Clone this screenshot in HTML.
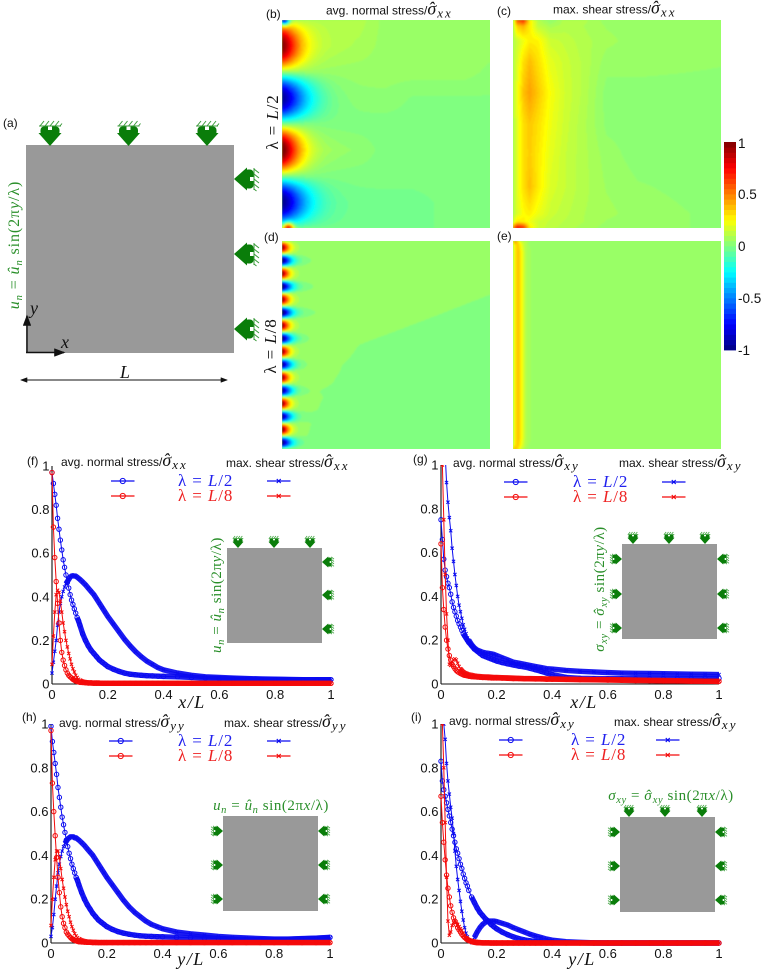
<!DOCTYPE html>
<html lang="en">
<head>
<meta charset="utf-8">
<title>Stress decay figure</title>
<style>
html,body{margin:0;padding:0;background:#fff;}
svg{display:block;}
text{font-family:"Liberation Sans",sans-serif;font-size:12px;fill:#111;}
.m{font-family:"Liberation Serif",serif;}
.i{font-family:"Liberation Serif",serif;font-style:italic;}
.g,.g tspan{fill:#2a8f2a;}
.b,.b tspan{fill:#2222ee;}
.r,.r tspan{fill:#ee2222;}
.lam{font-size:17px;letter-spacing:.9px;}
.ax{font-size:18px;letter-spacing:1.5px;}
.gl{font-size:15px;letter-spacing:.55px;}
.gs{font-size:10.5px;}
.sig{font-size:18px;}
.sub{font-size:13px;letter-spacing:2px;}
</style>
</head>
<body>
<svg id="fig" xmlns="http://www.w3.org/2000/svg" width="765" height="971" viewBox="0 0 765 971">
<defs>
<filter id="soft" x="-5%" y="-5%" width="110%" height="110%"><feGaussianBlur stdDeviation="0.7"/></filter>
<g id="clip-icon">
<path d="M-11.500,-13 L11.500,-13 L0,0 Z" fill="#0a7d0a"/>
<rect x="-9.500" y="-19.500" width="19" height="9" rx="3.500" fill="#0a7d0a"/>
<rect x="-2" y="-19.500" width="4" height="3.500" fill="#fff"/>
<path d="M-11,-20 H11 M-10,-20 l4,-5 M-5,-20 l4,-5 M0,-20 l4,-5 M5,-20 l4,-5 M10,-20 l2,-2.500" stroke="#3a9a3a" stroke-width="1" fill="none"/>
</g>
<g id="clip-icon-small">
<path d="M-11.500,-13 L11.500,-13 L0,0 Z" fill="#0a7d0a"/>
<rect x="-9.500" y="-19.500" width="19" height="9" rx="3.500" fill="#0a7d0a"/>
<rect x="-2" y="-19.500" width="4" height="3.500" fill="#fff"/>
<path d="M-11,-20 H11 M-10,-20 l4,-5 M-5,-20 l4,-5 M0,-20 l4,-5 M5,-20 l4,-5" stroke="#4aa84a" stroke-width="1.800" fill="none"/>
</g>
<marker id="ah" markerWidth="8" markerHeight="6" refX="7" refY="3" orient="auto-start-reverse"><path d="M0,0 L8,3 L0,6 Z" fill="#111"/></marker>
</defs>

<!-- Panel (a) -->
<g>
<text x="3" y="127" font-size="12">(a)</text>
<rect x="26" y="145" width="208" height="208" fill="#999999"/>
<use href="#clip-icon" transform="translate(50,146)"/>
<use href="#clip-icon" transform="translate(128.500,146)"/>
<use href="#clip-icon" transform="translate(207,146)"/>
<use href="#clip-icon" transform="translate(234,179) rotate(90)"/>
<use href="#clip-icon" transform="translate(234,254) rotate(90)"/>
<use href="#clip-icon" transform="translate(234,329) rotate(90)"/>
<text class="m g" style="font-size:16px;letter-spacing:.9px" text-anchor="middle" transform="translate(19,245) rotate(-90)"><tspan class="i">u</tspan><tspan class="i gs" dy="3">n</tspan><tspan dy="-3"> = </tspan><tspan class="i">û</tspan><tspan class="i gs" dy="3">n</tspan><tspan dy="-3"> sin(2π</tspan><tspan class="i">y</tspan><tspan>/λ)</tspan></text>
<line x1="27" y1="353" x2="27" y2="316" stroke="#111" stroke-width="1.400" marker-end="url(#ah)"/>
<line x1="26" y1="352.500" x2="64" y2="352.500" stroke="#111" stroke-width="1.400" marker-end="url(#ah)"/>
<text class="i" x="30" y="314" style="font-size:18px">y</text>
<text class="i" x="61" y="348" style="font-size:18px">x</text>
<line x1="21" y1="380" x2="227" y2="380" stroke="#111" stroke-width="0.900" marker-start="url(#ah)" marker-end="url(#ah)"/>
<text class="i" x="120" y="378" style="font-size:18px">L</text>
</g>

<!-- Heatmap labels -->
<text x="266" y="18">(b)</text>
<text x="497" y="15">(c)</text>
<text x="264" y="241">(d)</text>
<text x="497" y="240">(e)</text>
<text x="326" y="14.500">avg. normal stress/<tspan class="i sig">σ</tspan><tspan class="i sig" dx="-8">ˆ</tspan><tspan class="i sub" dx="3" dy="3">xx</tspan></text>
<text x="553" y="13.500">max. shear stress/<tspan class="i sig">σ</tspan><tspan class="i sig" dx="-8">ˆ</tspan><tspan class="i sub" dx="3" dy="3">xx</tspan></text>
<text class="m lam" text-anchor="middle" transform="translate(278,122) rotate(-90)">λ = <tspan class="i">L</tspan>/2</text>
<text class="m lam" text-anchor="middle" transform="translate(276,346) rotate(-90)">λ = <tspan class="i">L</tspan>/8</text>

<g id="heatmaps"></g>
<g id="colorbar"></g>
<g id="plots"></g>

<!-- Panel (f) labels -->
<text x="27" y="465">(f)</text>
<text x="61" y="466">avg. normal stress/<tspan class="i sig">σ</tspan><tspan class="i sig" dx="-8">ˆ</tspan><tspan class="i sub" dx="3" dy="3">xx</tspan></text>
<text x="226" y="467">max. shear stress/<tspan class="i sig">σ</tspan><tspan class="i sig" dx="-8">ˆ</tspan><tspan class="i sub" dx="3" dy="3">xx</tspan></text>
<text class="m b lam" x="178" y="486">λ = <tspan class="i">L</tspan>/2</text>
<text class="m r lam" x="178" y="501">λ = <tspan class="i">L</tspan>/8</text>
<text class="i ax" text-anchor="middle" x="192" y="708">x/L</text>

<!-- Panel (g) labels -->
<text x="413" y="463">(g)</text>
<text x="453" y="467">avg. normal stress/<tspan class="i sig">σ</tspan><tspan class="i sig" dx="-8">ˆ</tspan><tspan class="i sub" dx="3" dy="3">xy</tspan></text>
<text x="619" y="467">max. shear stress/<tspan class="i sig">σ</tspan><tspan class="i sig" dx="-8">ˆ</tspan><tspan class="i sub" dx="3" dy="3">xy</tspan></text>
<text class="m b lam" x="573" y="487">λ = <tspan class="i">L</tspan>/2</text>
<text class="m r lam" x="573" y="502">λ = <tspan class="i">L</tspan>/8</text>
<text class="i ax" text-anchor="middle" x="584" y="708">x/L</text>

<!-- Panel (h) labels -->
<text x="22" y="721">(h)</text>
<text x="59" y="727">avg. normal stress/<tspan class="i sig">σ</tspan><tspan class="i sig" dx="-8">ˆ</tspan><tspan class="i sub" dx="3" dy="3">yy</tspan></text>
<text x="224" y="727">max. shear stress/<tspan class="i sig">σ</tspan><tspan class="i sig" dx="-8">ˆ</tspan><tspan class="i sub" dx="3" dy="3">yy</tspan></text>
<text class="m b lam" x="178" y="746">λ = <tspan class="i">L</tspan>/2</text>
<text class="m r lam" x="178" y="761">λ = <tspan class="i">L</tspan>/8</text>
<text class="i ax" text-anchor="middle" x="191" y="965">y/L</text>

<!-- Panel (i) labels -->
<text x="411" y="721">(i)</text>
<text x="449" y="725">avg. normal stress/<tspan class="i sig">σ</tspan><tspan class="i sig" dx="-8">ˆ</tspan><tspan class="i sub" dx="3" dy="3">xy</tspan></text>
<text x="614" y="726">max. shear stress/<tspan class="i sig">σ</tspan><tspan class="i sig" dx="-8">ˆ</tspan><tspan class="i sub" dx="3" dy="3">xy</tspan></text>
<text class="m b lam" x="571" y="745">λ = <tspan class="i">L</tspan>/2</text>
<text class="m r lam" x="571" y="760">λ = <tspan class="i">L</tspan>/8</text>
<text class="i ax" text-anchor="middle" x="582" y="965">y/L</text>

<!-- Insets -->
<g>
<rect x="227" y="548" width="95" height="95" fill="#999999"/>
<use href="#clip-icon-small" transform="translate(238,548) scale(.48)"/>
<use href="#clip-icon-small" transform="translate(274,548) scale(.48)"/>
<use href="#clip-icon-small" transform="translate(310,548) scale(.48)"/>
<use href="#clip-icon-small" transform="translate(322,562) rotate(90) scale(.48)"/>
<use href="#clip-icon-small" transform="translate(322,595) rotate(90) scale(.48)"/>
<use href="#clip-icon-small" transform="translate(322,629) rotate(90) scale(.48)"/>
<text class="m g gl" text-anchor="middle" transform="translate(221,595) rotate(-90)"><tspan class="i">u</tspan><tspan class="i gs" dy="3">n</tspan><tspan dy="-3"> = </tspan><tspan class="i">û</tspan><tspan class="i gs" dy="3">n</tspan><tspan dy="-3"> sin(2π</tspan><tspan class="i">y</tspan><tspan>/λ)</tspan></text>
</g>
<g>
<rect x="622" y="544" width="95" height="95" fill="#999999"/>
<use href="#clip-icon-small" transform="translate(633,544) scale(.48)"/>
<use href="#clip-icon-small" transform="translate(669,544) scale(.48)"/>
<use href="#clip-icon-small" transform="translate(705,544) scale(.48)"/>
<use href="#clip-icon-small" transform="translate(622,559) rotate(-90) scale(.48)"/>
<use href="#clip-icon-small" transform="translate(622,594) rotate(-90) scale(.48)"/>
<use href="#clip-icon-small" transform="translate(622,628) rotate(-90) scale(.48)"/>
<use href="#clip-icon-small" transform="translate(717,559) rotate(90) scale(.48)"/>
<use href="#clip-icon-small" transform="translate(717,594) rotate(90) scale(.48)"/>
<use href="#clip-icon-small" transform="translate(717,628) rotate(90) scale(.48)"/>
<text class="m g gl" text-anchor="middle" transform="translate(604,589) rotate(-90)"><tspan class="i">σ</tspan><tspan class="i gs" dy="3">xy</tspan><tspan dy="-3"> = </tspan><tspan class="i">σ</tspan><tspan class="i" dx="-7">ˆ</tspan><tspan class="i gs" dx="2" dy="3">xy</tspan><tspan dy="-3"> sin(2π</tspan><tspan class="i">y</tspan><tspan>/λ)</tspan></text>
</g>
<g>
<rect x="223" y="816" width="95" height="95" fill="#999999"/>
<use href="#clip-icon-small" transform="translate(223,831) rotate(-90) scale(.48)"/>
<use href="#clip-icon-small" transform="translate(223,865) rotate(-90) scale(.48)"/>
<use href="#clip-icon-small" transform="translate(223,899) rotate(-90) scale(.48)"/>
<use href="#clip-icon-small" transform="translate(318,831) rotate(90) scale(.48)"/>
<use href="#clip-icon-small" transform="translate(318,865) rotate(90) scale(.48)"/>
<use href="#clip-icon-small" transform="translate(318,899) rotate(90) scale(.48)"/>
<text class="m g gl" text-anchor="middle" x="271" y="810"><tspan class="i">u</tspan><tspan class="i gs" dy="3">n</tspan><tspan dy="-3"> = </tspan><tspan class="i">û</tspan><tspan class="i gs" dy="3">n</tspan><tspan dy="-3"> sin(2π</tspan><tspan class="i">x</tspan><tspan>/λ)</tspan></text>
</g>
<g>
<rect x="620" y="817" width="95" height="95" fill="#999999"/>
<use href="#clip-icon-small" transform="translate(629,817) scale(.48)"/>
<use href="#clip-icon-small" transform="translate(665,817) scale(.48)"/>
<use href="#clip-icon-small" transform="translate(702,817) scale(.48)"/>
<use href="#clip-icon-small" transform="translate(620,832) rotate(-90) scale(.48)"/>
<use href="#clip-icon-small" transform="translate(620,866) rotate(-90) scale(.48)"/>
<use href="#clip-icon-small" transform="translate(620,900) rotate(-90) scale(.48)"/>
<use href="#clip-icon-small" transform="translate(715,832) rotate(90) scale(.48)"/>
<use href="#clip-icon-small" transform="translate(715,866) rotate(90) scale(.48)"/>
<use href="#clip-icon-small" transform="translate(715,900) rotate(90) scale(.48)"/>
<text class="m g gl" text-anchor="middle" x="671" y="800"><tspan class="i">σ</tspan><tspan class="i gs" dy="3">xy</tspan><tspan dy="-3"> = </tspan><tspan class="i">σ</tspan><tspan class="i" dx="-7">ˆ</tspan><tspan class="i gs" dx="2" dy="3">xy</tspan><tspan dy="-3"> sin(2π</tspan><tspan class="i">x</tspan><tspan>/λ)</tspan></text>
</g>
</svg>

<script>
/* ---------- line-plot data ---------- */
const xGrid = [0,.005,.01,.015,.02,.025,.03,.035,.04,.045,.05,.055,.06,.065,.07,.075,.08,.085,.09,.095,.1,
.11,.12,.13,.14,.15,.16,.17,.18,.19,.2,
.22,.24,.26,.28,.3,.32,.34,.36,.38,.4,
.45,.5,.55,.6,.65,.7,.75,.8,.85,.9,.95,1];

const fAvgL2 = [.97,.92,.87,.82,.76,.71,.66,.615,.57,.535,.5,.465,.44,.41,.385,.365,.345,.325,.305,.29,.27,
.23,.2,.175,.155,.14,.125,.11,.1,.09,.08,
.068,.058,.05,.045,.042,.04,.038,.037,.036,.035,
.033,.03,.027,.025,.023,.022,.021,.021,.02,.02,.02,.02];
const fMaxL2 = [.05,.1,.15,.2,.27,.33,.37,.4,.425,.445,.46,.47,.48,.49,.495,.497,.495,.495,.49,.485,.48,
.468,.455,.44,.425,.41,.39,.37,.35,.33,.31,
.275,.24,.205,.175,.148,.125,.105,.09,.075,.065,
.05,.04,.033,.03,.027,.025,.023,.022,.021,.02,.02,.02];
const fAvgL8 = [.97,.72,.58,.47,.37,.28,.2,.145,.11,.085,.065,.05,.04,.033,.028,.022,.018,.014,.012,.01,.008,
.007,.006,.005,.005,.004,.004,.004,.003,.003,.003,
.003,.003,.003,.003,.003,.003,.003,.003,.003,.003,
.003,.003,.003,.003,.003,.003,.003,.003,.003,.003,.003,.003];
const fMaxL8 = [.09,.22,.33,.41,.43,.42,.38,.33,.28,.24,.2,.17,.14,.115,.09,.07,.055,.04,.03,.022,.016,
.01,.007,.005,.005,.004,.004,.004,.003,.003,.003,
.003,.003,.003,.003,.003,.003,.003,.003,.003,.003,
.003,.003,.003,.003,.003,.003,.003,.003,.003,.003,.003,.003];

const gAvgL2 = [.75,.66,.57,.52,.49,.46,.44,.41,.375,.35,.33,.31,.29,.275,.26,.245,.23,.22,.21,.2,.19,
.175,.16,.15,.14,.13,.125,.12,.115,.11,.105,
.098,.092,.087,.082,.078,.072,.065,.058,.05,.043,
.03,.026,.025,.024,.024,.024,.024,.024,.024,.024,.025,.026];
const gMaxL2 = [1.7,1.4,1.2,1.05,.92,.83,.76,.7,.62,.56,.5,.45,.4,.36,.33,.3,.27,.25,.23,.21,.2,
.18,.165,.155,.15,.145,.142,.14,.138,.135,.13,
.12,.11,.1,.095,.09,.085,.08,.075,.07,.068,
.062,.058,.055,.052,.05,.049,.048,.047,.046,.045,.044,.043];
const gAvgL8 = [.64,.44,.34,.26,.2,.16,.13,.11,.09,.08,.07,.062,.056,.052,.048,.045,.042,.04,.039,.038,.036,
.034,.033,.032,.031,.03,.03,.029,.028,.028,.028,
.027,.026,.025,.025,.024,.024,.023,.023,.022,.022,
.021,.02,.019,.018,.017,.016,.015,.014,.014,.013,.013,.012];
const gMaxL8 = [1.4,1.0,.75,.5,.32,.2,.09,.085,.1,.11,.115,.11,.095,.08,.07,.06,.055,.05,.047,.045,.042,
.04,.037,.035,.034,.033,.032,.032,.031,.03,.03,
.029,.028,.027,.026,.025,.025,.024,.024,.023,.023,
.022,.021,.02,.02,.019,.018,.017,.016,.015,.014,.013,.012];

const hAvgL2 = [.99,.92,.87,.82,.77,.71,.665,.62,.575,.54,.505,.47,.44,.41,.385,.36,.34,.32,.3,.285,.265,
.23,.2,.175,.155,.135,.12,.105,.095,.085,.075,
.062,.052,.045,.04,.036,.033,.031,.03,.029,.028,
.026,.024,.022,.02,.018,.017,.016,.016,.017,.019,.022,.026];
const hMaxL2 = [.03,.07,.13,.2,.26,.32,.36,.395,.42,.44,.455,.465,.475,.48,.485,.485,.485,.48,.48,.475,.47,
.458,.445,.43,.415,.4,.38,.36,.34,.32,.3,
.265,.23,.195,.165,.14,.12,.1,.085,.075,.065,
.05,.042,.036,.03,.026,.023,.02,.018,.018,.02,.022,.024];
const hAvgL8 = [.97,.73,.6,.49,.39,.3,.23,.165,.12,.09,.07,.05,.04,.032,.025,.02,.015,.012,.01,.008,.006,
.005,.004,.003,.003,.002,.002,.002,.002,.002,.002,
.002,.002,.002,.002,.002,.002,.002,.002,.002,.002,
.002,.002,.002,.002,.002,.002,.002,.002,.002,.002,.002,.002];
const hMaxL8 = [.08,.2,.3,.38,.42,.42,.39,.34,.29,.25,.21,.175,.145,.12,.095,.075,.058,.043,.032,.024,.018,
.011,.007,.005,.004,.003,.003,.002,.002,.002,.002,
.002,.002,.002,.002,.002,.002,.002,.002,.002,.002,
.002,.002,.002,.002,.002,.002,.002,.002,.002,.002,.002,.002];

const iAvgL2 = [.83,.74,.7,.67,.64,.61,.58,.55,.52,.49,.46,.43,.41,.385,.36,.34,.315,.295,.275,.26,.24,
.21,.185,.16,.14,.125,.11,.1,.085,.075,.065,
.05,.038,.028,.02,.014,.01,.007,.005,.003,.002,
.001,.001,0,0,0,0,0,0,0,0,0,0];
const iMaxL2 = [1.5,1.2,1,.93,.82,.74,.68,.62,.57,.5,.42,.35,.29,.24,.19,.145,.105,.07,.045,.028,.015,
.002,.025,.05,.07,.085,.095,.1,.1,.1,.098,
.09,.082,.07,.06,.05,.04,.032,.025,.018,.013,
.006,.003,.001,0,0,0,0,0,0,0,0,0];
const iAvgL8 = [.67,.55,.46,.38,.31,.25,.21,.17,.14,.115,.1,.085,.07,.06,.05,.04,.032,.025,.02,.015,.012,
.008,.005,.003,.002,.001,.001,.001,0,0,0,
0,0,0,0,0,0,0,0,0,0,
0,0,0,0,0,0,0,0,0,0,0,0];
const iMaxL8 = [1.5,1.0,.8,.55,.3,.1,.035,.05,.08,.095,.1,.095,.085,.075,.065,.058,.045,.035,.025,.017,.012,
.006,.003,.001,.001,0,0,0,0,0,0,
0,0,0,0,0,0,0,0,0,0,
0,0,0,0,0,0,0,0,0,0,0,0];

const xTickValues = [0,.2,.4,.6,.8,1];
const xTickLabels = ['0','0.2','0.4','0.6','0.8','1'];
const yTickValues = [0,.2,.4,.6,.8,1];
const yTickLabels = ['0','0.2','0.4','0.6','0.8','1'];

/* ---------- heatmap data ---------- */
const uniformKnots = [0,.125,.25,.375,.5,.625,.75,.875,1];
const cXKnots = [0,.02,.05,.08,.12,.18,.25,.33,.45,.6,1];
const cYKnots = [0,.03,.1,.2,.35,.5,.65,.8,.93,.97,1];
const eXKnots = [0,.01,.025,.04,.06,.08,.1,.15,1];
const eYKnots = [0,.02,.05,.5,.95,.98,1];

const bGrid = [
[.1,.1,.1,.1,.05,.05,.05,.05,.05],
[.1,.1,.1,.08,.05,.05,.05,.05,.05],
[.05,.05,.05,.05,.05,.05,.05,.05,.03],
[0,0,.02,.03,.03,.01,.01,.01,.01],
[0,0,0,0,0,0,0,0,0],
[.05,.05,.05,.03,0,0,0,0,0],
[0,0,0,0,0,0,0,0,0],
[-.025,-.025,-.025,-.025,-.025,-.025,-.01,0,0],
[-.025,-.025,-.025,-.025,-.025,-.025,-.01,0,0]];
const bPeaks = [.9,-.95,1,-.95];
const bTails = [0,0,0,0];
const bSpots = [[.01,0,-.9,.025],[.03,1,.8,.025]];

const cGrid = [
[.1,.6,.7,.3,.1,.03,.1,.1,.05,.05,.05],
[.1,.35,.4,.28,.13,.08,.1,.09,.06,.05,.05],
[.1,.15,.22,.28,.27,.15,.13,.1,.07,.05,.05],
[.1,.18,.31,.38,.31,.2,.15,.11,.05,.05,.04],
[.1,.22,.37,.44,.36,.24,.16,.11,.025,.025,.025],
[.1,.2,.31,.36,.31,.22,.15,.1,.03,.025,.025],
[.1,.2,.31,.35,.29,.2,.14,.1,.05,.025,.025],
[.1,.2,.31,.38,.29,.18,.14,.1,.06,.04,.025],
[.1,.18,.25,.28,.22,.15,.12,.09,.07,.05,.03],
[.15,.3,.28,.22,.16,.13,.11,.09,.06,.05,.03],
[.5,.8,.7,.3,.16,.12,.1,.08,.05,.05,.03]];

const dGrid = [
[.3,.3,.3,.3,.3,.3,.3,.3,.3],
[.3,.3,.3,.3,.3,.3,.3,.3,.3],
[.229,.204,.179,.154,.129,.104,.079,.054,.029],
[.165,.14,.115,.09,.065,.04,.015,-.01,-.035],
[.099,.074,.049,.024,-.001,-.026,-.051,-.076,-.101],
[.081,.056,.031,.006,-.019,-.044,-.069,-.094,-.119],
[.065,.04,.015,-.01,-.035,-.06,-.085,-.11,-.135],
[.053,.028,.003,-.022,-.047,-.072,-.097,-.122,-.147],
[.045,.02,-.005,-.03,-.055,-.08,-.105,-.13,-.155]];
const dPeaks = [.95,-1,.95,-1,.95,-1,.95,-1,.95,-1,.95,-1,.95,-1,1,-1];
const dTails = [0,.1,0,.12,0,.14,0,.08,0,.05,0,.05,0,.04,0,.08];
const dSpots = [];
const noPeaks = [];
const noTails = [];
const noSpots = [];

const eGrid = [
[.3,.5,.3,.15,.1,.05,.05,.05,.05],
[.12,.3,.36,.22,.1,.06,.05,.05,.05],
[.12,.28,.38,.26,.1,.07,.05,.05,.05],
[.12,.28,.38,.26,.1,.07,.05,.05,.05],
[.12,.28,.38,.26,.1,.07,.05,.05,.05],
[.12,.3,.36,.22,.1,.06,.05,.05,.05],
[.3,.4,.3,.15,.08,.05,.05,.05,.05]];

const colorbarLevels = [-1,-.95,-.9,-.85,-.8,-.75,-.7,-.65,-.6,-.55,-.5,-.45,-.4,-.35,-.3,-.25,-.2,-.15,-.1,-.05,0,.05,.1,.15,.2,.25,.3,.35,.4,.45,.5,.55,.6,.65,.7,.75,.8,.85,.9,.95,1];
const colorbarTickValues = [1,.5,0,-.5,-1];
const colorbarTickLabels = ['1','0.5','0','-0.5','-1'];

/* ---------- drawing ---------- */
const NS = 'http://www.w3.org/2000/svg';
function el(tag, parent){
  const e = document.createElementNS(NS, tag);
  parent.appendChild(e);
  return e;
}
function jet(v){
  const t = (Math.max(-1,Math.min(1,v))+1)/2;
  const c = a => Math.round(255*Math.max(0,Math.min(1,1.5-Math.abs(4*t-a))));
  return 'rgb('+c(3)+','+c(2)+','+c(1)+')';
}
function locate(knots, v){
  let i = 0;
  while(i < knots.length-2 && v > knots[i+1]) i++;
  return [i, (v-knots[i])/(knots[i+1]-knots[i])];
}
function sampleField(p, x, y){
  const [ix,fx] = locate(p.xKnots, x);
  const [iy,fy] = locate(p.yKnots, y);
  const g = p.grid;
  let v = g[iy][ix]*(1-fx)*(1-fy)+g[iy][ix+1]*fx*(1-fy)+g[iy+1][ix]*(1-fx)*fy+g[iy+1][ix+1]*fx*fy;
  if(p.clampBase) v = Math.max(p.clampBase[0], Math.min(p.clampBase[1], v));
  if(p.peaks.length){
    const n = p.peaks.length;
    const k = Math.min(n-1, Math.floor(y*n));
    const s = Math.sin(Math.PI*(y*n-k));
    const a = p.peaks[k];
    const d = a>0 ? p.decayPos : p.decayNeg;
    v += a*s*Math.exp(-Math.pow(x/d,1.5));
    v += a*s*p.tails[k]*Math.exp(-x/p.tailDecay);
  }
  for(const sp of p.spots){
    const dx = x-sp[0], dy = y-sp[1];
    v += sp[2]*Math.exp(-(dx*dx+dy*dy)/(sp[3]*sp[3]));
  }
  return v;
}
function drawHeatmap(p){
  const root = document.getElementById('heatmaps');
  const cid = 'clip-'+p.name;
  const defs = el('clipPath', root);
  defs.setAttribute('id', cid);
  const cr = el('rect', defs);
  cr.setAttribute('x', p.x); cr.setAttribute('y', p.y); cr.setAttribute('width', p.size); cr.setAttribute('height', p.size);
  const outer = el('g', root);
  outer.setAttribute('clip-path', 'url(#'+cid+')');
  
  
  const bg = el('rect', outer);
  bg.setAttribute('x', p.x); bg.setAttribute('y', p.y); bg.setAttribute('width', p.size); bg.setAttribute('height', p.size);
  bg.setAttribute('fill', jet(.05));
  
  
  const g = el('g', outer);
  g.setAttribute('filter', 'url(#soft)');
  const cell = 1, n = Math.floor(p.size/cell);
  for(let r=0;r<n;r++){
    let start=0, cur=null;
    for(let c=0;c<=n;c++){
      let q=null;
      if(c<n){
        const v = sampleField(p,(c+.5)/n,(r+.5)/n);
        q = Math.round(v/p.step)*p.step;
      }
      if(q!==cur){
        if(cur!==null){
          const rect = el('rect', g);
          rect.setAttribute('x', p.x+start*cell);
          rect.setAttribute('y', p.y+r*cell);
          rect.setAttribute('width', (c-start)*cell+.5);
          rect.setAttribute('height', cell+.5);
          rect.setAttribute('fill', jet(cur));
          
          
        }
        start=c; cur=q;
      }
    }
  }
}
drawHeatmap({name:'b',x:282,y:20,size:208,xKnots:uniformKnots,yKnots:uniformKnots,grid:bGrid,peaks:bPeaks,tails:bTails,decayPos:.09,decayNeg:.12,tailDecay:.1,spots:bSpots,step:.025});
drawHeatmap({name:'c',x:513,y:20,size:208,xKnots:cXKnots,yKnots:cYKnots,grid:cGrid,peaks:noPeaks,tails:noTails,decayPos:1,decayNeg:1,tailDecay:1,spots:noSpots,step:.025});
drawHeatmap({name:'d',x:282,y:241,size:208,xKnots:uniformKnots,yKnots:uniformKnots,grid:dGrid,clampBase:[0,.05],peaks:dPeaks,tails:dTails,decayPos:.035,decayNeg:.045,tailDecay:.09,spots:dSpots,step:.05});
drawHeatmap({name:'e',x:513,y:241,size:208,xKnots:eXKnots,yKnots:eYKnots,grid:eGrid,peaks:noPeaks,tails:noTails,decayPos:1,decayNeg:1,tailDecay:1,spots:noSpots,step:.025});

/* colorbar */
(function(){
  const g = document.getElementById('colorbar');
  const x=724, w=12, top=142, bottom=350;
  const sy = v => bottom-(v+1)/2*(bottom-top);
  colorbarLevels.forEach((lv,i)=>{
    const r = el('rect', g);
    const next = i<colorbarLevels.length-1 ? colorbarLevels[i+1] : lv;
    const y = sy(next);
    r.setAttribute('x', x);
    r.setAttribute('y', y);
    r.setAttribute('width', w);
    r.setAttribute('height', Math.max(0, sy(lv)-y+.4));
    r.setAttribute('fill', jet(lv+.025));
    
    
  });
  colorbarTickValues.forEach((v,i)=>{
    const t = el('text', g);
    t.setAttribute('x', 738);
    t.setAttribute('y', Math.max(sy(v)+5, top+6));
    t.setAttribute('style', 'font-size:13.5px');
    
    
    t.textContent = colorbarTickLabels[i];
  });
})();

/* line plots */
const BLUE='#0a0af0', RED='#f40a0a';
function drawPlot(cfg){
  const root = document.getElementById('plots');
  const g = el('g', root);
  
  
  const sx = v => cfg.x0+(cfg.x1-cfg.x0)*v;
  const sy = v => cfg.y0-(cfg.y0-cfg.y1)*v;
  const cp = el('clipPath', g);
  cp.setAttribute('id', 'plot-clip-'+cfg.name);
  const cr = el('rect', cp);
  cr.setAttribute('x', cfg.x0-8); cr.setAttribute('y', cfg.y1);
  cr.setAttribute('width', cfg.x1-cfg.x0+16); cr.setAttribute('height', cfg.y0-cfg.y1+8);

  const yAxis = el('line', g);
  yAxis.setAttribute('x1', cfg.x0); yAxis.setAttribute('x2', cfg.x0);
  yAxis.setAttribute('y1', cfg.y1); yAxis.setAttribute('y2', cfg.y0);
  yAxis.setAttribute('stroke', '#111'); yAxis.setAttribute('stroke-width', '1.1');
  
  
  const xAxis = el('line', g);
  xAxis.setAttribute('x1', cfg.x0); xAxis.setAttribute('x2', cfg.x1);
  xAxis.setAttribute('y1', cfg.y0); xAxis.setAttribute('y2', cfg.y0);
  xAxis.setAttribute('stroke', '#111'); xAxis.setAttribute('stroke-width', '1.1');
  
  

  xTickValues.forEach((v,i)=>{
    const t = el('text', g);
    t.setAttribute('x', sx(v));
    t.setAttribute('y', cfg.y0+15);
    t.setAttribute('text-anchor', 'middle');
    t.setAttribute('style', 'font-size:13px');
    
    
    t.textContent = xTickLabels[i];
  });
  yTickValues.forEach((v,i)=>{
    const t = el('text', g);
    t.setAttribute('x', cfg.x0-2.5);
    t.setAttribute('y', sy(v)+4.5);
    t.setAttribute('text-anchor', 'end');
    t.setAttribute('style', 'font-size:13px');
    
    
    t.textContent = yTickLabels[i];
  });

  const plotArea = el('g', g);
  plotArea.setAttribute('clip-path', 'url(#plot-clip-'+cfg.name+')');
  cfg.series.forEach(s=>{
    const line = el('polyline', plotArea);
    line.setAttribute('points', xGrid.map((x,i)=>sx(x).toFixed(2)+','+sy(s.values[i]).toFixed(2)).join(' '));
    line.setAttribute('fill', 'none');
    line.setAttribute('stroke', s.color);
    line.setAttribute('stroke-width', '1');
    
    
    const band = el('polyline', plotArea);
    band.setAttribute('points', xGrid.map((x,i)=>x>=s.bandFrom ? sx(x).toFixed(2)+','+sy(s.values[i]).toFixed(2) : null).filter(Boolean).join(' '));
    band.setAttribute('fill', 'none');
    band.setAttribute('stroke', s.color);
    band.setAttribute('stroke-width', '5.4');
    band.setAttribute('stroke-linejoin', 'round');
    band.setAttribute('stroke-opacity', '.92');
    
    
    xGrid.forEach((x,i)=>{
      if(s.kind==='circle'){
        const c = el('circle', plotArea);
        c.setAttribute('cx', sx(x).toFixed(2));
        c.setAttribute('cy', sy(s.values[i]).toFixed(2));
        c.setAttribute('r', '2.2');
        c.setAttribute('fill', 'none');
        c.setAttribute('stroke', s.color);
        c.setAttribute('stroke-width', '1');
        
        
      } else {
        const px = sx(x), py = sy(s.values[i]);
        const m = el('path', plotArea);
        m.setAttribute('d', 'M'+(px-1.6)+','+(py-1.6)+'l3.2,3.2M'+(px-1.6)+','+(py+1.6)+'l3.2,-3.2');
        m.setAttribute('stroke', s.color);
        m.setAttribute('stroke-width', '1');
        
        
      }
    });
  });

  /* legend samples */
  cfg.legend.forEach(item=>{
    const l = el('line', g);
    l.setAttribute('x1', item.x); l.setAttribute('x2', item.x+23.5);
    l.setAttribute('y1', item.y); l.setAttribute('y2', item.y);
    l.setAttribute('stroke', item.color); l.setAttribute('stroke-width', '1.3');
    
    
    const cx = item.x+11.75;
    if(item.kind==='circle'){
      const c = el('circle', g);
      c.setAttribute('cx', cx); c.setAttribute('cy', item.y); c.setAttribute('r', '2.6');
      c.setAttribute('fill', 'none'); c.setAttribute('stroke', item.color); c.setAttribute('stroke-width', '1');
      
      
    } else {
      const m = el('path', g);
      m.setAttribute('d', 'M'+(cx-2)+','+(item.y-2)+'l4,4M'+(cx-2)+','+(item.y+2)+'l4,-4');
      m.setAttribute('stroke', item.color); m.setAttribute('stroke-width', '1.1');
      
      
    }
  });
}
function legendSet(xa, xb, y1, y2){
  return [
    {x:xa,y:y1,color:BLUE,kind:'circle'},
    {x:xa,y:y2,color:RED,kind:'circle'},
    {x:xb,y:y1,color:BLUE,kind:'x'},
    {x:xb,y:y2,color:RED,kind:'x'}];
}
drawPlot({name:'f',x0:52,x1:331,y0:684,y1:466,legend:legendSet(111,267,481,496),series:[
  {values:fAvgL2,color:BLUE,kind:'circle',bandFrom:.09},
  {values:fMaxL2,color:BLUE,kind:'x',bandFrom:.05},
  {values:fMaxL8,color:RED,kind:'x',bandFrom:.1},
  {values:fAvgL8,color:RED,kind:'circle',bandFrom:.07}]});
drawPlot({name:'g',x0:441,x1:719,y0:684,y1:465,legend:legendSet(504,662,482,497),series:[
  {values:gAvgL2,color:BLUE,kind:'circle',bandFrom:.08},
  {values:gMaxL2,color:BLUE,kind:'x',bandFrom:.1},
  {values:gMaxL8,color:RED,kind:'x',bandFrom:.07},
  {values:gAvgL8,color:RED,kind:'circle',bandFrom:.08}]});
drawPlot({name:'h',x0:51,x1:330,y0:943,y1:724,legend:legendSet(109,267,741,756),series:[
  {values:hAvgL2,color:BLUE,kind:'circle',bandFrom:.09},
  {values:hMaxL2,color:BLUE,kind:'x',bandFrom:.05},
  {values:hMaxL8,color:RED,kind:'x',bandFrom:.1},
  {values:hAvgL8,color:RED,kind:'circle',bandFrom:.07}]});
drawPlot({name:'i',x0:441,x1:719,y0:943,y1:724,legend:legendSet(499,656,740,755),series:[
  {values:iAvgL2,color:BLUE,kind:'circle',bandFrom:.11},
  {values:iMaxL2,color:BLUE,kind:'x',bandFrom:.12},
  {values:iMaxL8,color:RED,kind:'x',bandFrom:.09},
  {values:iAvgL8,color:RED,kind:'circle',bandFrom:.09}]});
</script>
</body>
</html>
